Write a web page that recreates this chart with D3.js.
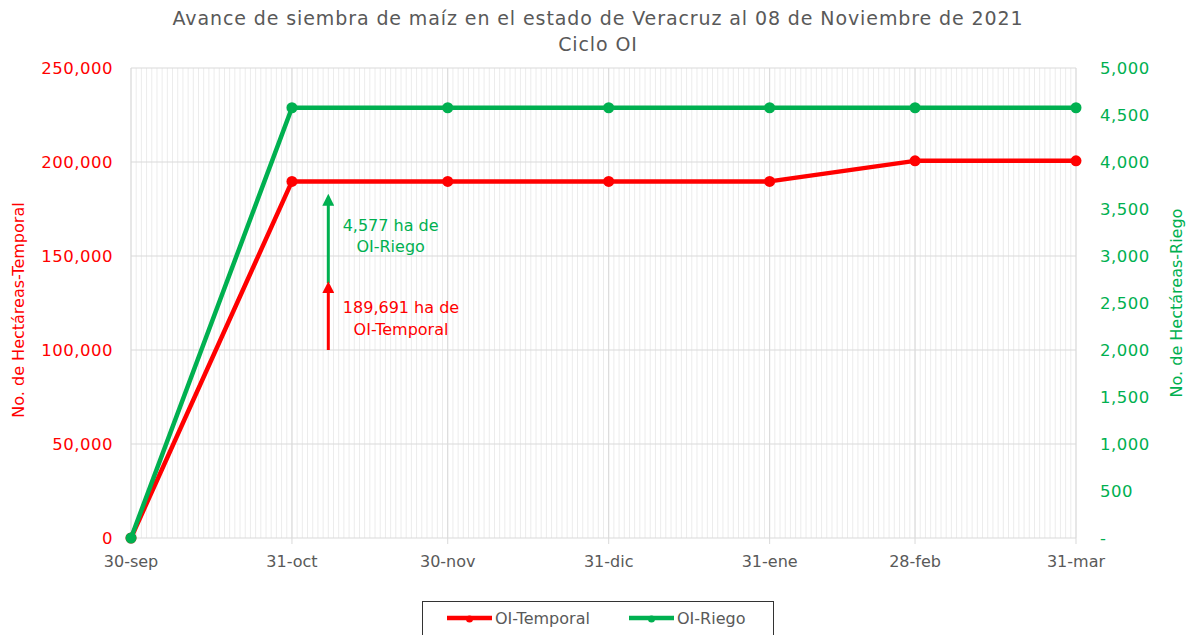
<!DOCTYPE html>
<html><head><meta charset="utf-8">
<script src="https://cdn.jsdelivr.net/npm/d3@7"></script>
<style>
body{margin:0;background:#fff;}
svg{font-family:"DejaVu Sans","Open Sans",sans-serif;}
</style></head>
<body><svg id="c" width="1196" height="635"></svg>
<script>
const dates = ["2021-09-30","2021-10-31","2021-11-30","2021-12-31","2022-01-31","2022-02-28","2022-03-31"];
const tickLabels = ["30-sep","31-oct","30-nov","31-dic","31-ene","28-feb","31-mar"];
const temporal = [0,189691,189691,189691,189691,200600,200600];
const riego = [0,4577,4577,4577,4577,4577,4577];
const leftTicks = [0,50000,100000,150000,200000,250000];
const rightTicks = [0,500,1000,1500,2000,2500,3000,3500,4000,4500,5000];

const RED="#ff0000", GREEN="#00b050", GRAY="#595959";
const parse=d3.timeParse("%Y-%m-%d");
const D=dates.map(parse);
const svg=d3.select("#c");
const L=131,R=1076,T=68,B=538;
const x=d3.scaleTime().domain([D[0],D[D.length-1]]).range([L,R]);
const yL=d3.scaleLinear().domain([0,250000]).range([B,T]);
const yR=d3.scaleLinear().domain([0,5000]).range([B,T]);

// daily grid
const days=d3.timeDay.range(D[0],d3.timeDay.offset(D[D.length-1],1));
svg.append("g").selectAll("line").data(days).join("line")
  .attr("x1",d=>x(d)).attr("x2",d=>x(d)).attr("y1",T).attr("y2",B)
  .attr("stroke","#ececec").attr("stroke-width",1);
svg.append("g").selectAll("line").data(D).join("line")
  .attr("x1",d=>x(d)).attr("x2",d=>x(d)).attr("y1",T).attr("y2",B+6)
  .attr("stroke","#d9d9d9").attr("stroke-width",1);
svg.append("g").selectAll("line").data(leftTicks).join("line")
  .attr("x1",L).attr("x2",R).attr("y1",d=>yL(d)).attr("y2",d=>yL(d))
  .attr("stroke","#d9d9d9").attr("stroke-width",1.2);

// axes labels
const fmt=d3.format(",");
svg.append("g").selectAll("text").data(leftTicks).join("text")
  .attr("x",113).attr("y",d=>yL(d)).attr("dy","0.35em").attr("text-anchor","end")
  .attr("fill",RED).attr("font-size",16.5).attr("letter-spacing",0.5).text(d=>fmt(d));
svg.append("g").selectAll("text").data(rightTicks).join("text")
  .attr("x",1100).attr("y",d=>yR(d)).attr("dy","0.35em").attr("text-anchor","start")
  .attr("fill",GREEN).attr("font-size",16.5).attr("letter-spacing",0.5).text(d=>d===0?"-":fmt(d));
svg.append("g").selectAll("text").data(D).join("text")
  .attr("x",d=>x(d)).attr("y",561).attr("dy","0.35em").attr("text-anchor","middle")
  .attr("fill",GRAY).attr("font-size",16).text((d,i)=>tickLabels[i]);

svg.append("text").attr("transform","translate(24,310) rotate(-90)").attr("text-anchor","middle")
  .attr("fill",RED).attr("font-size",16).text("No. de Hectáreas-Temporal");
svg.append("text").attr("transform","translate(1182,303) rotate(-90)").attr("text-anchor","middle")
  .attr("fill",GREEN).attr("font-size",16).text("No. de Hectáreas-Riego");

// title
svg.append("text").attr("x",598).attr("y",25).attr("text-anchor","middle").attr("fill",GRAY)
  .attr("font-size",19).attr("letter-spacing",0.9).text("Avance de siembra de maíz en el estado de Veracruz al 08 de Noviembre de 2021");
svg.append("text").attr("x",598).attr("y",51).attr("text-anchor","middle").attr("fill",GRAY)
  .attr("font-size",19).attr("letter-spacing",0.9).text("Ciclo OI");

// lines
function series(vals,y,color){
  const pts=vals.map((v,i)=>[D[i],v]);
  svg.append("path").datum(pts).attr("fill","none").attr("stroke",color).attr("stroke-width",4.5)
    .attr("stroke-linejoin","round")
    .attr("d",d3.line().x(d=>x(d[0])).y(d=>y(d[1])));
  svg.append("g").selectAll("circle").data(pts).join("circle")
    .attr("cx",d=>x(d[0])).attr("cy",d=>y(d[1])).attr("r",5.5).attr("fill",color);
}
series(temporal,yL,RED);
series(riego,yR,GREEN);

// annotations
const defs=svg.append("defs");
[["ag",GREEN],["ar",RED]].forEach(([id,c])=>{
  defs.append("marker").attr("id",id).attr("viewBox","0 0 10 10").attr("refX",2).attr("refY",5)
   .attr("markerWidth",4).attr("markerHeight",4).attr("orient","auto").attr("markerUnits","strokeWidth")
   .append("path").attr("d","M0,0 L10,5 L0,10 Z").attr("fill",c);
});
const ax=x(parse("2021-11-07"));
svg.append("line").attr("x1",ax).attr("x2",ax).attr("y1",yL(135500)).attr("y2",yL(178000))
  .attr("stroke",GREEN).attr("stroke-width",3).attr("marker-end","url(#ag)");
svg.append("line").attr("x1",ax).attr("x2",ax).attr("y1",yL(100000)).attr("y2",yL(131500))
  .attr("stroke",RED).attr("stroke-width",3).attr("marker-end","url(#ar)");
const tx=x(parse("2021-11-19"));
svg.append("text").attr("x",tx).attr("y",yL(163500)).attr("text-anchor","middle").attr("fill",GREEN)
  .attr("font-size",16).selectAll("tspan").data(["4,577 ha de","OI-Riego"]).join("tspan")
  .attr("x",tx).attr("dy",(d,i)=>i?"1.35em":0).text(d=>d);
const tx2=x(parse("2021-11-21"));
svg.append("text").attr("x",tx2).attr("y",yL(119500)).attr("text-anchor","middle").attr("fill",RED)
  .attr("font-size",16).selectAll("tspan").data(["189,691 ha de","OI-Temporal"]).join("tspan")
  .attr("x",tx2).attr("dy",(d,i)=>i?"1.35em":0).text(d=>d);

// legend
const lg=svg.append("g");
lg.append("rect").attr("x",422.5).attr("y",601.5).attr("width",351).attr("height",40)
  .attr("fill","#fff").attr("stroke","#333").attr("stroke-width",1);
[["OI-Temporal",RED,447],["OI-Riego",GREEN,629]].forEach(([t,c,lx])=>{
  lg.append("line").attr("x1",lx).attr("x2",lx+45).attr("y1",618).attr("y2",618).attr("stroke",c).attr("stroke-width",4.5);
  lg.append("circle").attr("cx",lx+22.5).attr("cy",619).attr("r",3.5).attr("fill",c);
  lg.append("text").attr("x",lx+48).attr("y",618).attr("dy","0.35em").attr("fill",GRAY).attr("font-size",16).text(t);
});
</script></body></html>
